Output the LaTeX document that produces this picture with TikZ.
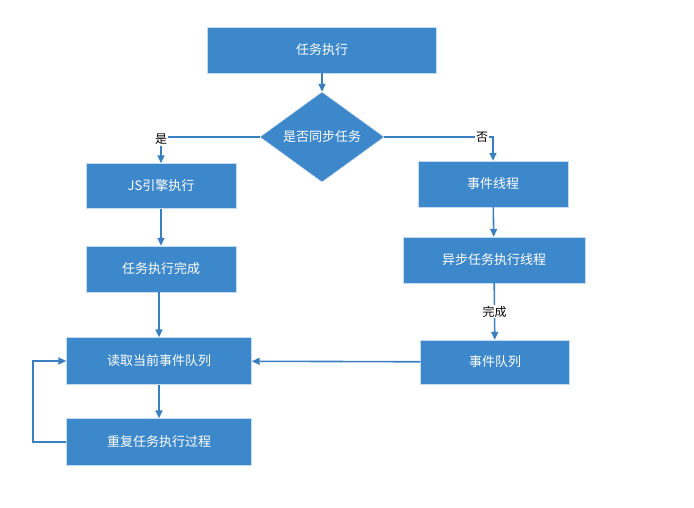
\documentclass[tikz,border=0pt]{standalone}
\usepackage{fontspec}
\setmainfont{Noto Sans CJK SC}
\usetikzlibrary{shapes.geometric, arrows.meta}

\definecolor{boxblue}{HTML}{3D88CA}
\definecolor{lineblue}{HTML}{3A7FC0}

\begin{document}
\begin{tikzpicture}[x=1pt, y=-1pt, >={Triangle[width=7pt,length=8pt]},
    box/.style={draw=white!70!boxblue, fill=boxblue, text=white, font=\fontsize{13}{15}\selectfont, inner sep=0pt},
    choice/.style={diamond, draw=white!70!boxblue, fill=boxblue, text=white, font=\fontsize{13}{15}\selectfont, inner sep=0pt, minimum width=124pt, minimum height=68pt},
    flow/.style={->, lineblue, line width=1.6pt},
    tag/.style={fill=white, text=black, font=\fontsize{12}{14}\selectfont, inner sep=1pt}]
    \useasboundingbox (0,0) rectangle (694,508);
    
    % 主干
    \node[box, minimum width=229pt, minimum height=46pt] (run) at (322,50) {任务执行};
    \node[choice] (sync) at (322,137) {是否同步任务};
    
    % 左侧: 同步任务
    \node[box, minimum width=150pt, minimum height=45pt] (js) at (161,186) {JS引擎执行};
    \node[box, minimum width=150pt, minimum height=46pt] (done) at (161,269) {任务执行完成};
    \node[box, minimum width=185pt, minimum height=47pt] (read) at (159,361) {读取当前事件队列};
    \node[box, minimum width=185pt, minimum height=47pt] (again) at (159,442) {重复任务执行过程};
    
    % 右侧: 异步任务
    \node[box, minimum width=150pt, minimum height=46pt] (evt) at (493,184) {事件线程};
    \node[box, minimum width=182pt, minimum height=46pt] (async) at (494,260) {异步任务执行线程};
    \node[box, minimum width=149pt, minimum height=44pt] (queue) at (495,362) {事件队列};
    
    % 连线
    \draw[flow] (run) -- (sync);
    \draw[flow] (sync.west) -| node[tag, pos=0.55] {是} (js.north);
    \draw[flow] (sync.east) -| node[tag, pos=0.45] {否} (evt.north);
    \draw[flow] (js) -- (done);
    \draw[flow] (done.south -| read.north) ++(0pt,0) coordinate (d1) -- (read.north -| d1);
    \draw[flow] (evt) -- (async);
    \draw[flow] (async) -- node[tag] {完成} (queue);
    \draw[flow] (queue) -- (read);
    \draw[flow] (read) -- (again);
    \coordinate (loop) at (33,0);
    \draw[flow] (again.west) -- (again.west -| loop) -- (read.west -| loop) -- (read.west);
    
\end{tikzpicture}
\end{document}
